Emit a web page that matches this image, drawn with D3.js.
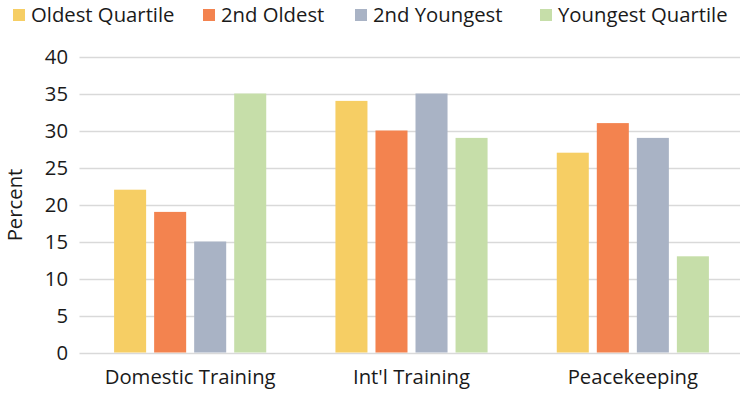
<!DOCTYPE html>
<html><head><meta charset="utf-8">
<script src="https://cdn.jsdelivr.net/npm/d3@7"></script>
<style>body{margin:0;background:#fff}svg{display:block;font-family:"Open Sans",sans-serif}</style>
</head><body>
<svg id="c" width="740" height="393"></svg>
<script>
const categories = ["Domestic Training", "Int'l Training", "Peacekeeping"];
const seriesNames = ["Oldest Quartile", "2nd Oldest", "2nd Youngest", "Youngest Quartile"];
const oldest = [22, 34, 27];
const secondOldest = [19, 30, 31];
const secondYoungest = [15, 35, 29];
const youngest = [35, 29, 13];
const yTicks = [0, 5, 10, 15, 20, 25, 30, 35, 40];
const colors = ["#F6CE64", "#F3834F", "#A9B3C5", "#C6DEA9"];

const values = [oldest, secondOldest, secondYoungest, youngest];
const FS = 20.3;
const svg = d3.select("#c");
const margin = {left: 79.5, right: -3.5, top: 56.5, bottom: 40.5};
const W = 740, H = 393;
const x0 = d3.scaleBand().domain(categories).range([margin.left, W - margin.right]).paddingInner(0).paddingOuter(0);
const x1 = d3.scaleBand().domain(seriesNames).range([34.6, x0.bandwidth() - 34.6]).paddingInner(0.2).paddingOuter(0);
const y = d3.scaleLinear().domain([0, 40]).range([H - margin.bottom, margin.top]);

// gridlines
svg.append("g").selectAll("line").data(yTicks).join("line")
  .attr("x1", margin.left).attr("x2", W)
  .attr("y1", d => Math.round(y(d)) + 0.5).attr("y2", d => Math.round(y(d)) + 0.5)
  .attr("stroke", "#d9d9d9").attr("stroke-width", 1.3);

// y axis labels
const yAxis = d3.axisLeft(y).tickValues(yTicks).tickSize(0).tickPadding(0);
const ya = svg.append("g").attr("transform", `translate(68,0)`).call(yAxis);
ya.select(".domain").remove();
ya.selectAll("text").attr("font-size", FS).attr("fill", "#1a1a1a").attr("font-family", "Open Sans").attr("dy", "0.35em");

// bars
const groups = svg.append("g").selectAll("g").data(categories).join("g")
  .attr("transform", c => `translate(${x0(c)},0)`);
groups.selectAll("rect").data((c, ci) => seriesNames.map((s, si) => ({s, si, v: values[si][ci]})))
  .join("rect")
  .attr("x", d => x1(d.s)).attr("width", x1.bandwidth())
  .attr("y", d => y(d.v)).attr("height", d => y(0) - y(d.v))
  .attr("fill", d => colors[d.si]);

// x axis labels
const xAxis = d3.axisBottom(x0).tickSize(0).tickPadding(0);
const xa = svg.append("g").attr("transform", `translate(0,${y(0)})`).call(xAxis);
xa.select(".domain").remove();
xa.selectAll("text").attr("font-size", FS).attr("fill", "#1a1a1a").attr("font-family", "Open Sans").attr("dy", "0").attr("y", 31.5);

// y title
svg.append("text").attr("transform", "translate(21.5,205) rotate(-90)").attr("text-anchor", "middle")
  .attr("font-size", FS).attr("fill", "#1a1a1a").text("Percent");

// legend
const legX = [13, 203, 355, 540];
const leg = svg.append("g").selectAll("g").data(seriesNames).join("g")
  .attr("transform", (d, i) => `translate(${legX[i]},0)`);
leg.append("rect").attr("x", 0).attr("y", 9).attr("width", 12).attr("height", 12).attr("fill", (d, i) => colors[i]);
leg.append("text").attr("x", 18).attr("y", 21.5).attr("font-size", FS).attr("fill", "#1a1a1a").text(d => d);
</script>
</body></html>
